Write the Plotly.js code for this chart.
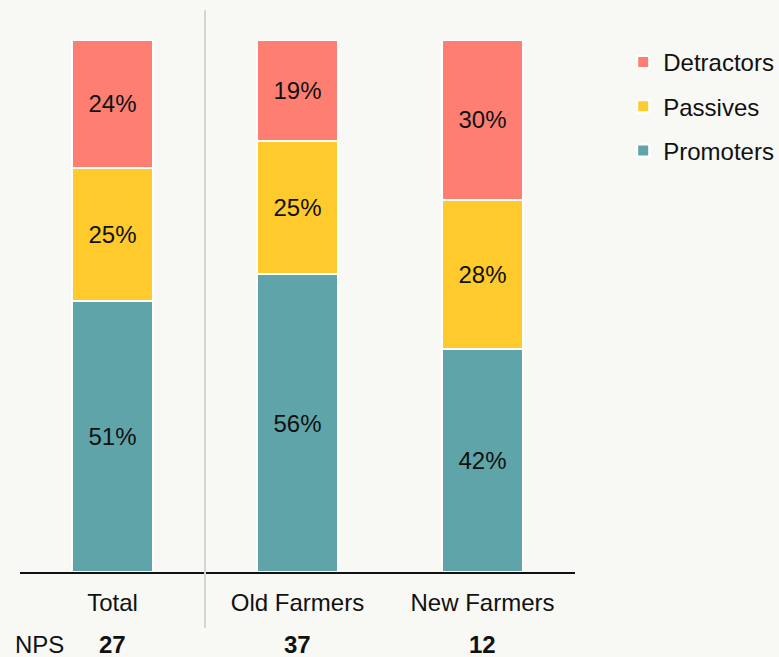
<!DOCTYPE html>
<html><head><meta charset="utf-8">
<script src="https://cdn.plot.ly/plotly-3.0.1.min.js"></script>
<style>html,body{margin:0;padding:0;background:#f8f8f4;}</style>
</head><body><div id="chart" style="width:779px;height:657px;"></div>
<script>
const categories = ["Total", "Old Farmers", "New Farmers"];
const promoters = [51, 56, 42];
const passives = [25, 25, 28];
const detractors = [24, 19, 30];
const nps = [27, 37, 12];

const FONT = "Liberation Sans, Arial, sans-serif";
function tr(name, vals, color, group, rank) {
  return {
    type: 'bar', name: name, x: categories, y: vals,
    text: vals.map(v => v + '%'), textposition: 'inside', insidetextanchor: 'middle',
    textfont: {family: FONT, size: 24, color: '#111'},
    marker: {color: color, line: {color: '#ffffff', width: 2}},
    width: 0.44, legendgroup: group, legendrank: rank, hoverinfo: 'skip'
  };
}
const data = [
  tr('Promoters', promoters, '#5fa4a8', 'c', 3),
  tr('Passives', passives, '#ffca2b', 'b', 2),
  tr('Detractors', detractors, '#fe7f72', 'a', 1)
];
const annotations = [{xref:'paper', yref:'paper', x:0.036, y:-0.137, text:'NPS', showarrow:false,
  font:{family:FONT, size:24, color:'#111'}, xanchor:'center', yanchor:'middle'}];
categories.forEach((c,i) => annotations.push({xref:'x', yref:'paper', x:c, y:-0.137, text:'<b>'+nps[i]+'</b>',
  showarrow:false, font:{family:FONT, size:24, color:'#111'}, xanchor:'center', yanchor:'middle'}));
const layout = {
  width: 779, height: 657,
  margin: {l: 20, r: 204, t: 40, b: 85},
  paper_bgcolor: '#f8f8f4', plot_bgcolor: '#f8f8f4',
  barmode: 'stack',
  font: {family: FONT, size: 24, color: '#111'},
  xaxis: {showline: true, linecolor: '#111', linewidth: 2, range: [-0.5, 2.5],
    tickfont: {family: FONT, size: 24, color: '#111'}, ticks: 'outside', ticklen: 8, tickcolor: 'rgba(0,0,0,0)'},
  yaxis: {range: [0, 100], visible: false, showgrid: false, zeroline: false},
  legend: {xref: 'container', x: 0.8, y: 1.0, xanchor: 'left', yanchor: 'top', traceorder: 'grouped',
    tracegroupgap: 10, font: {family: FONT, size: 24, color: '#111'}, bgcolor: 'rgba(0,0,0,0)',
    itemwidth: 30},
  shapes: [{type: 'line', xref: 'x', yref: 'paper', x0: 0.5, x1: 0.5, y0: -0.105, y1: 1.056,
    line: {color: '#d4d4d0', width: 2}}],
  annotations: annotations,
  showlegend: true
};
Plotly.newPlot('chart', data, layout, {displayModeBar: false, staticPlot: true});
</script></body></html>
